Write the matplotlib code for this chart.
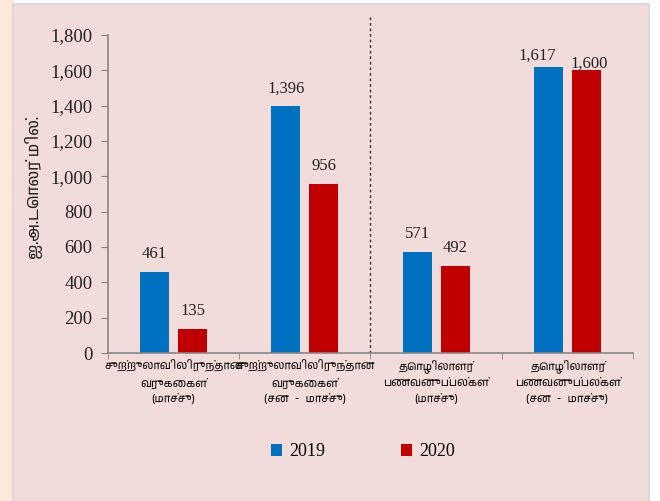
import matplotlib
matplotlib.use("Agg")
import matplotlib.pyplot as plt
from matplotlib.patches import Rectangle
from matplotlib import font_manager

categories = [
    "சுற்றுலாவிலிருந்தான\nவருகைகள்\n(மாச்சு)",
    "சுற்றுலாவிலிருந்தான\nவருகைகள்\n(சன  -  மாச்சு)",
    "தொழிலாளர்\nபணவனுப்பல்கள்\n(மாச்சு)",
    "தொழிலாளர்\nபணவனுப்பல்கள்\n(சன  -  மாச்சு)",
]
series_names = ["2019", "2020"]
values_2019 = [461, 1396, 571, 1617]
values_2020 = [135, 956, 492, 1600]
yticks = [0, 200, 400, 600, 800, 1000, 1200, 1400, 1600, 1800]
ylabel = "ஐ.அ.டொலர் மில்."

avail = sorted({f.name for f in font_manager.fontManager.ttflist})
tamil = [n for n in avail if "Tamil" in n]
sans = tamil + ["DejaVu Sans"]
serif = ["Liberation Serif", "DejaVu Serif"]

W, H = 660, 501
fig = plt.figure(figsize=(W / 100, H / 100), dpi=100)
fig.patch.set_facecolor("white")
# backgrounds
fig.add_artist(Rectangle((0, 0), 14 / W, 1, transform=fig.transFigure, facecolor="#fde9d9", edgecolor="none", zorder=-10))
fig.add_artist(Rectangle((12 / W, 0), 638 / W, 1 - 3 / H, transform=fig.transFigure, facecolor="#d9d9d9", edgecolor="none", zorder=-9))
fig.add_artist(Rectangle((14 / W, 0), 634 / W, 1 - 5 / H, transform=fig.transFigure, facecolor="#f2dcdb", edgecolor="none", zorder=-8))

ax = fig.add_axes([108 / W, 1 - 353 / H, (633 - 108) / W, (353 - 35) / H])
ax.set_facecolor("none")
x = range(len(categories))
bw = 0.22
off = 0.145
b1 = ax.bar([i - off for i in x], values_2019, bw, color="#0070c0", label=series_names[0])
b2 = ax.bar([i + off for i in x], values_2020, bw, color="#c00000", label=series_names[1])

lab_off = [[7, 7, 7, 3], [7, 7, 7, -1]]
lab_dx = [[0, 0, 0, -8], [0, 0, 0, 2]]
for bars, vals, offs, dxs in ((b1, values_2019, lab_off[0], lab_dx[0]), (b2, values_2020, lab_off[1], lab_dx[1])):
    for b, v, o, d in zip(bars, vals, offs, dxs):
        ax.annotate(f"{v:,}", (b.get_x() + b.get_width() / 2, v), xytext=(d, o), textcoords="offset points",
                    ha="center", va="bottom", fontsize=12, family=serif, color="#222222")

ax.set_xlim(-0.5, len(categories) - 0.5)
ax.set_ylim(0, 1800)
ax.set_yticks(yticks)
ax.set_yticklabels([f"{t:,}" for t in yticks], family=serif, fontsize=13.5, color="#222222")
ax.set_xticks(list(x))
ax.set_xticklabels(categories, family=sans, fontsize=8, color="#111111", linespacing=1.55)
ax.tick_params(axis="x", length=0, pad=5)
ax.set_xticks([i + 0.5 for i in range(-1, len(categories))], minor=True)
ax.tick_params(axis="x", which="minor", length=4, color="#868686", direction="out")
ax.tick_params(axis="y", length=5, color="#868686", direction="out", pad=6)
for s in ("top", "right"):
    ax.spines[s].set_visible(False)
for s in ("left", "bottom"):
    ax.spines[s].set_color("#868686")
    ax.spines[s].set_linewidth(1.2)
ax.axvline(1.5, ymin=0, ymax=(353 - 15) / (353 - 35), color="#333333", linestyle=(0, (2, 2)), linewidth=1, clip_on=False)
ax.set_ylabel(ylabel, family=sans, fontsize=11.5, color="#222222", labelpad=8)
ax.yaxis.set_label_coords(-0.124, 0.52)

ax.legend(loc="center", bbox_to_anchor=(0.486, (353 - 452) / (353 - 35)), ncol=2, frameon=False,
          prop={"family": serif, "size": 13}, handlelength=0.6, handleheight=0.6, columnspacing=4.2, handletextpad=0.4)

fig.savefig("out.png", dpi=100, facecolor=fig.get_facecolor())
